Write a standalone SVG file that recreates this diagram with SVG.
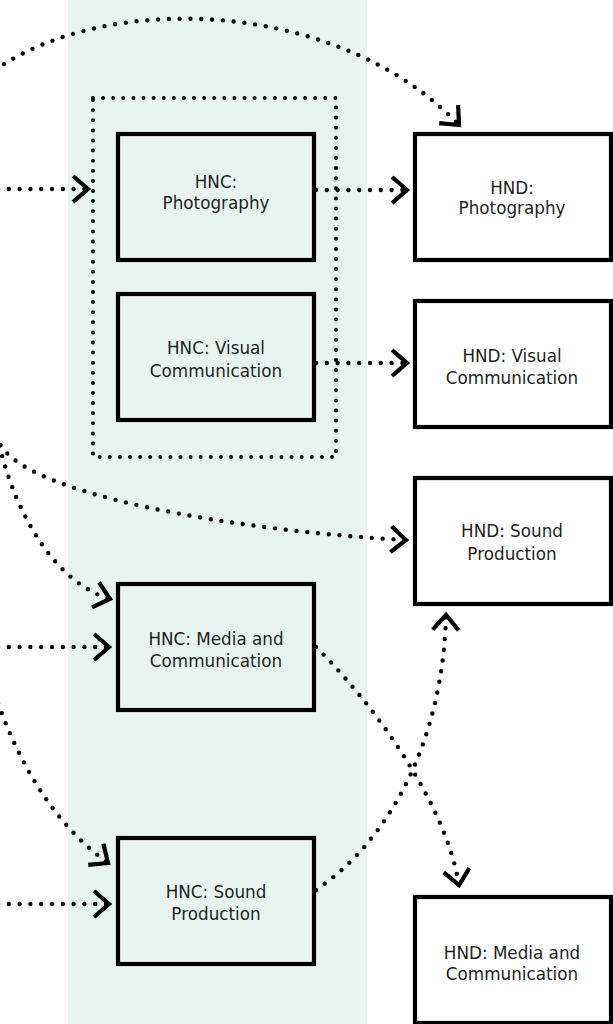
<svg xmlns="http://www.w3.org/2000/svg" width="613" height="1024" viewBox="0 0 613 1024">
<defs>
<style>
.band{fill:#e9f4f0}
.hnc{fill:none;stroke:#000;stroke-width:4.2}
.hnd{fill:#fff;stroke:#000;stroke-width:4.2}
.group{fill:none;stroke:#000;stroke-width:4;stroke-linecap:round;stroke-dasharray:0 10.1}
.lbl{font-family:"DejaVu Sans","Liberation Sans",sans-serif;font-size:16.8px;fill:#1e1e1e;text-anchor:middle}
.con{fill:none;stroke:#000;stroke-width:4.4;stroke-linecap:round;stroke-dasharray:0 10.8;marker-end:url(#chev)}
</style>
<marker id="chev" markerUnits="userSpaceOnUse" orient="auto" refX="0" refY="0" markerWidth="30" markerHeight="30" viewBox="-20 -15 30 30" overflow="visible">
<path d="M -15,-13 L 0,0 L -15,13" fill="none" stroke="#000" stroke-width="4.2" stroke-linejoin="miter" stroke-linecap="butt"/>
</marker>
</defs>
<rect class="band" x="68" y="0" width="299" height="1024"/>
<g id="hnc-group">
<rect class="group" x="93" y="98" width="243" height="359"/>
</g>
<g id="hnc-photography">
<rect class="hnc" x="118" y="134" width="196" height="126"/>
<text class="lbl" x="216" y="188">HNC:</text>
<text class="lbl" x="216" y="209">Photography</text>
</g>
<g id="hnc-visual">
<rect class="hnc" x="118" y="294" width="196" height="126"/>
<text class="lbl" x="216" y="354">HNC: Visual</text>
<text class="lbl" x="216" y="377">Communication</text>
</g>
<g id="hnc-media">
<rect class="hnc" x="118" y="584" width="196" height="126"/>
<text class="lbl" x="216" y="645">HNC: Media and</text>
<text class="lbl" x="216" y="666.5">Communication</text>
</g>
<g id="hnc-sound">
<rect class="hnc" x="118" y="838" width="196" height="126"/>
<text class="lbl" x="216" y="898">HNC: Sound</text>
<text class="lbl" x="216" y="920">Production</text>
</g>
<g id="hnd-photography">
<rect class="hnd" x="415" y="134" width="196" height="126"/>
<text class="lbl" x="512" y="194">HND:</text>
<text class="lbl" x="512" y="214">Photography</text>
</g>
<g id="hnd-visual">
<rect class="hnd" x="415" y="301" width="196" height="126"/>
<text class="lbl" x="512" y="361.5">HND: Visual</text>
<text class="lbl" x="512" y="384">Communication</text>
</g>
<g id="hnd-sound">
<rect class="hnd" x="415" y="478" width="196" height="126"/>
<text class="lbl" x="512" y="537">HND: Sound</text>
<text class="lbl" x="512" y="560">Production</text>
</g>
<g id="hnd-media">
<rect class="hnd" x="415" y="897" width="196" height="126"/>
<text class="lbl" x="512" y="959">HND: Media and</text>
<text class="lbl" x="512" y="980">Communication</text>
</g>
<g id="connectors">
<path class="con" d="M -5,70 C 110,-10 340,0 459,125"/>
<path class="con" d="M -2,189 L 88,189"/>
<path class="con" d="M 316,190 L 407,190"/>
<path class="con" d="M 316,363 L 407,363"/>
<path class="con" d="M -3,435 C 5,495 250,532 406,540"/>
<path class="con" d="M -3,435 C 15,520 60,585 110,599"/>
<path class="con" d="M -2,647 L 109,647"/>
<path class="con" d="M -2,703 C 20,765 55,825 108,863"/>
<path class="con" d="M -2,904 L 109,904"/>
<path class="con" d="M 316,647 C 370,700 445,800 459,885"/>
<path class="con" d="M 316,890 C 390,840 443,740 446,615"/>
</g>
</svg>
